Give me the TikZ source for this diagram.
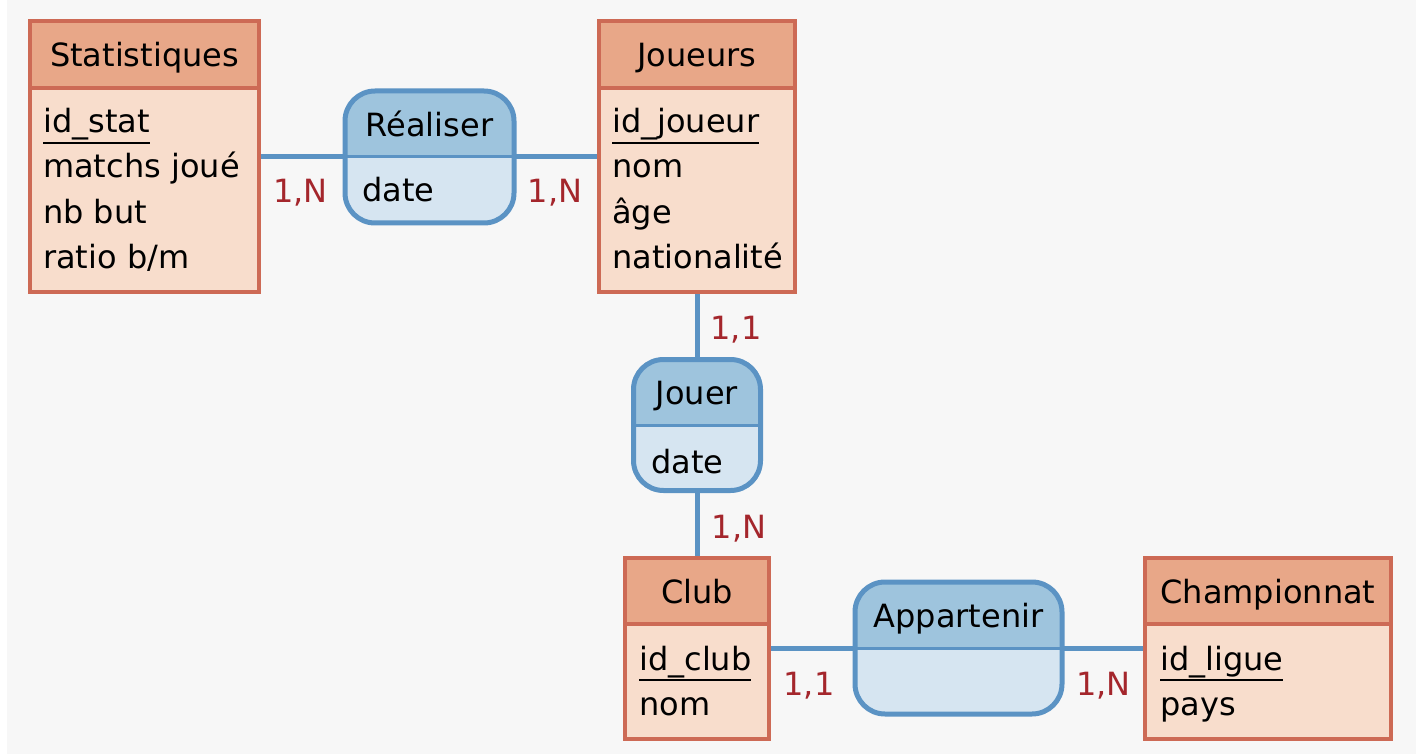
\documentclass[tikz,border=0pt]{standalone}
\usepackage{fontspec}
\setmainfont{DejaVu Sans}
\usetikzlibrary{backgrounds}
\definecolor{pagebg}{HTML}{F7F7F7}
\definecolor{entline}{HTML}{CD6A55}
\definecolor{headfill}{HTML}{E8A788}
\definecolor{bodyfill}{HTML}{F8DDCC}
\definecolor{relline}{HTML}{5B93C4}
\definecolor{reltop}{HTML}{9EC4DD}
\definecolor{relbot}{HTML}{D6E5F1}
\definecolor{cardred}{HTML}{A4262C}
\newcommand\mainsize{\fontsize{32}{38}\selectfont}
% primary key: text with a thick rule beneath it
\newcommand\pk[1]{\setbox0\hbox{#1}\rlap{\rule[-11pt]{\wd0}{2.2pt}}\box0}
\begin{document}
\begin{tikzpicture}[x=1pt,y=-1pt,
  ehead/.style={rectangle, draw=entline, fill=headfill, line width=4.6pt,
    inner sep=0, outer sep=0, anchor=north west},
  ebody/.style={ehead, fill=bodyfill},
  relbox/.style={rectangle, fill=relbot, rounded corners=30pt,
    inner sep=0, outer sep=0},
  link/.style={draw=relline, line width=5pt},
  divider/.style={draw=relline, line width=3pt},
  txt/.style={inner sep=0, font=\mainsize, anchor=base},
  attr/.style={txt, anchor=base west},
  card/.style={txt, text=cardred}]
\useasboundingbox (0,0) rectangle (1416,754);

% ---------- entities ----------
\node[ehead, minimum width=229, minimum height=67] (statH) at (30,21) {};
\node[ebody, minimum width=229, minimum height=204] (statB) at (30,88) {};
\node[txt] (statT) at (144.5,67) {Statistiques};
\node[attr] (stat1) at (43,133) {\pk{id\_stat}};
\node[attr] (stat2) at (43,178) {matchs joué};
\node[attr] (stat3) at (43,223) {nb but};
\node[attr] (stat4) at (43,268) {ratio b/m};

\node[ehead, minimum width=196, minimum height=67] (joueH) at (599,21) {};
\node[ebody, minimum width=196, minimum height=204] (joueB) at (599,88) {};
\node[txt] (joueT) at (697,67) {Joueurs};
\node[attr] (joue1) at (612,133) {\pk{id\_joueur}};
\node[attr] (joue2) at (612,178) {nom};
\node[attr] (joue3) at (612,223) {âge};
\node[attr] (joue4) at (612,268) {nationalité};

\node[ehead, minimum width=144, minimum height=66] (clubH) at (625,558) {};
\node[ebody, minimum width=144, minimum height=115] (clubB) at (625,624) {};
\node[txt] (clubT) at (697,603) {Club};
\node[attr] (club1) at (639,670) {\pk{id\_club}};
\node[attr] (club2) at (639,715) {nom};

\node[ehead, minimum width=246, minimum height=66] (champH) at (1145,558) {};
\node[ebody, minimum width=246, minimum height=115] (champB) at (1145,624) {};
\node[txt] (champT) at (1268,603) {Championnat};
\node[attr] (champ1) at (1160,670) {\pk{id\_ligue}};
\node[attr] (champ2) at (1160,715) {pays};

% ---------- relationships ----------
\node[relbox, minimum width=169, minimum height=132] (real) at (429.5,157) {};
\node[relbox, minimum width=127, minimum height=131] (jouer) at (697,425) {};
\node[relbox, minimum width=207, minimum height=132] (app) at (958.5,648) {};
\foreach \r in {real,jouer,app}{
  \begin{scope}
    \clip[rounded corners=30pt] (\r.north west) rectangle (\r.south east);
    \fill[reltop] (\r.north west) rectangle (\r.east);
  \end{scope}
  \draw[divider] (\r.west) -- (\r.east);
  \draw[link, rounded corners=30pt] (\r.north west) rectangle (\r.south east);
}
\node[txt] (realT) at (429.5,137) {Réaliser};
\node[attr] (realA) at (362,202) {date};
\node[txt] (jouerT) at (697,404) {Jouer};
\node[attr] (jouerA) at (651,473) {date};
\node[txt] (appT) at (958.5,627) {Appartenir};

% ---------- connectors and cardinalities ----------
\begin{scope}[on background layer]
  \fill[white] (0,0) rectangle (1416,754);
  \fill[pagebg] (7,0) rectangle (1416,754);
  \draw[link] (statB.east |- real.west) -- (real.west);
  \draw[link] (real.east) -- (real.east -| joueB.west);
  \draw[link] (joueB.south) -- (jouer.north);
  \draw[link] (jouer.south) -- (clubH.north);
  \draw[link] (clubB.east |- app.west) -- (app.west);
  \draw[link] (app.east) -- (app.east -| champB.west);
\end{scope}
\node[card] (c1) at (300.5,203) {1,N};
\node[card] (c2) at (555,203) {1,N};
\node[card] (c3) at (736,339) {1,1};
\node[card] (c4) at (739,538) {1,N};
\node[card] (c5) at (809,695) {1,1};
\node[card] (c6) at (1103.5,695) {1,N};
\end{tikzpicture}
\end{document}
